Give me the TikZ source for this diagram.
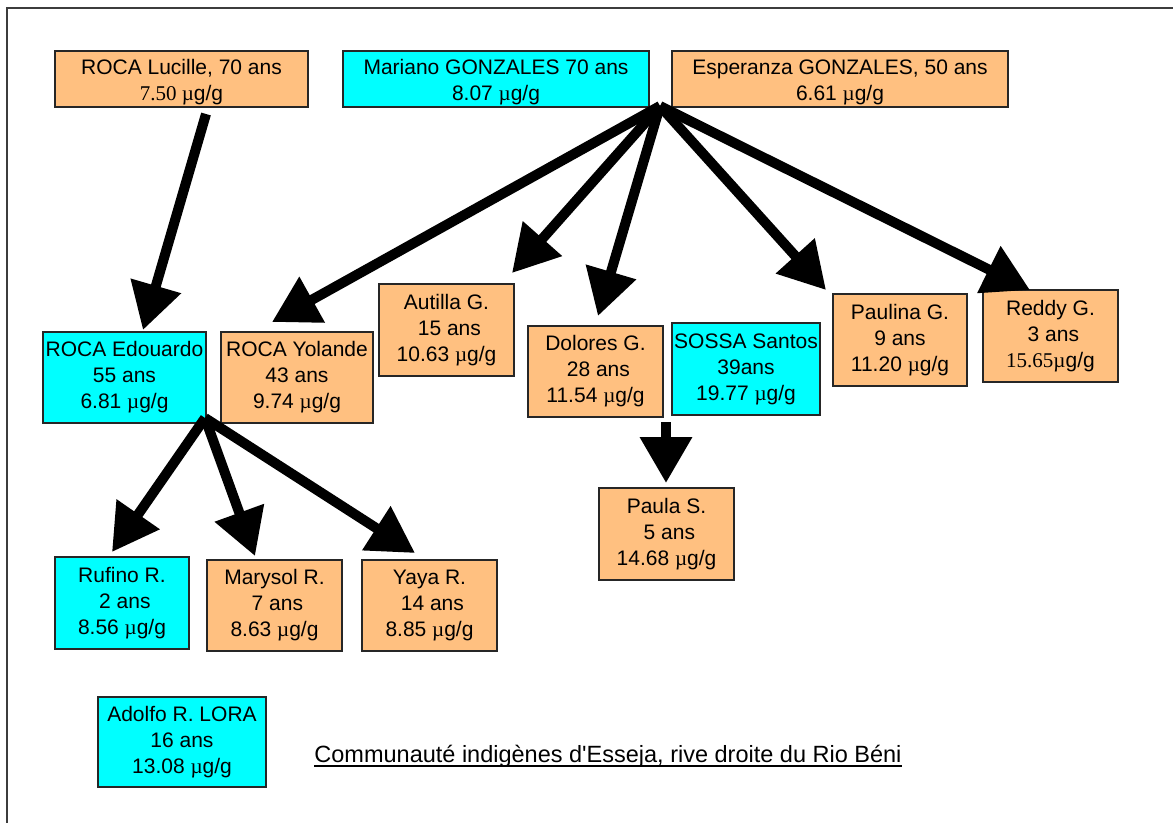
\documentclass[tikz,border=0pt]{standalone}
\usepackage{fontspec}
\setmainfont{Liberation Sans}
\newfontfamily\tnr{Liberation Serif}
\usetikzlibrary{arrows.meta}
\definecolor{boxorange}{RGB}{255,192,128}
\definecolor{boxcyan}{RGB}{0,255,255}
\definecolor{framegray}{RGB}{60,60,60}
\newcommand\ugg{{\tnr µ}g/g}
\tikzset{
  pbox/.style={draw=black!85, line width=1.1pt, align=center, inner sep=0pt,
    font=\fontsize{21}{26}\selectfont},
  obox/.style={pbox, fill=boxorange},
  cbox/.style={pbox, fill=boxcyan},
  arr/.style={line width=10pt, -{Triangle[width=50pt,length=46pt]}},
}
\begin{document}
\begin{tikzpicture}[x=1pt,y=-1pt]
\useasboundingbox (0,0) rectangle (1173,823);
\draw[framegray, line width=1.5pt] (1173,8) -- (7,8) -- (7,823);
% top row
\node[obox, minimum width=253pt, minimum height=56pt] (luc) at (181.5,79) {\rule{0pt}{21pt}ROCA Lucille, 70 ans\\{\tnr 7.50 µ}g/g};
\node[cbox, minimum width=306pt, minimum height=56pt] (mar) at (496,79) {\rule{0pt}{21pt}Mariano GONZALES 70 ans\\8.07 \ugg};
\node[obox, minimum width=336pt, minimum height=56pt] (esp) at (840,79) {\rule{0pt}{21pt}Esperanza GONZALES, 50 ans\\6.61 \ugg};
% middle row
\node[cbox, minimum width=163pt, minimum height=91pt] (edo) at (124.5,377.5) {ROCA Edouardo\\55 ans\\6.81 \ugg};
\node[obox, minimum width=152pt, minimum height=91pt] (yol) at (297,377.5) {ROCA Yolande\\43 ans\\9.74 \ugg};
\node[obox, minimum width=135pt, minimum height=92pt] (aut) at (446.5,330) {Autilla G.\\\ 15 ans\\10.63 \ugg};
\node[obox, minimum width=135pt, minimum height=91pt] (dol) at (595.5,371.5) {Dolores G.\\\ 28 ans\\11.54 \ugg};
\node[cbox, minimum width=148pt, minimum height=92pt] (sos) at (746,369) {SOSSA Santos\\39ans\\19.77 \ugg};
\node[obox, minimum width=134pt, minimum height=92pt] (pal) at (900,340) {Paulina G.\\9 ans\\11.20 \ugg};
\node[obox, minimum width=135pt, minimum height=92pt] (red) at (1050.5,336) {Reddy G.\\\ 3 ans\\{\tnr 15.65µ}g/g};
\node[obox, minimum width=135pt, minimum height=92pt] (pau) at (666.5,534) {Paula S.\\\ 5 ans\\14.68 \ugg};
% bottom row
\node[cbox, minimum width=134pt, minimum height=92pt] (ruf) at (122,603) {Rufino R.\\\ 2 ans\\8.56 \ugg};
\node[obox, minimum width=135pt, minimum height=91pt] (mary) at (274.5,605.5) {Marysol R.\\\ 7 ans\\8.63 \ugg};
\node[obox, minimum width=135pt, minimum height=91pt] (yay) at (429.5,605.5) {Yaya R.\\\ 14 ans\\8.85 \ugg};
\node[cbox, minimum width=168pt, minimum height=90pt] (ado) at (182,742) {Adolfo R. LORA\\16 ans\\13.08 \ugg};
\node[font=\fontsize{23.5}{28}\selectfont, inner sep=0pt, anchor=base] (cap) at (608,762) {Communauté indigènes d\textquotesingle Esseja, rive droite du Rio Béni};
\draw[line width=1.8pt] ([yshift=-4pt]cap.base west) -- ([yshift=-4pt]cap.base east);
% hubs and tips
\coordinate (lucS) at (206,114);
\coordinate (espH) at (660,106);
\coordinate (edoH) at (205,418);
\coordinate (dolS) at (666,422);
\coordinate (tEdo) at (143,330);
\coordinate (tYol) at (272,322);
\coordinate (tAut) at (512,273);
\coordinate (tDol) at (598,316);
\coordinate (tPal) at (826,290);
\coordinate (tRed) at (1030,290);
\coordinate (tRuf) at (112,552);
\coordinate (tMary) at (255,556);
\coordinate (tYay) at (415,553);
\coordinate (tPau) at (666,483);
% arrows
\draw[arr] (lucS) -- (tEdo);
\draw[arr] (espH) -- (tYol);
\draw[arr] (espH) -- (tAut);
\draw[arr] (espH) -- (tDol);
\draw[arr] (espH) -- (tPal);
\draw[arr] (espH) -- (tRed);
\draw[arr] (edoH) -- (tRuf);
\draw[arr] (edoH) -- (tMary);
\draw[arr] (edoH) -- (tYay);
\draw[arr] (dolS) -- (tPau);
\end{tikzpicture}
\end{document}
